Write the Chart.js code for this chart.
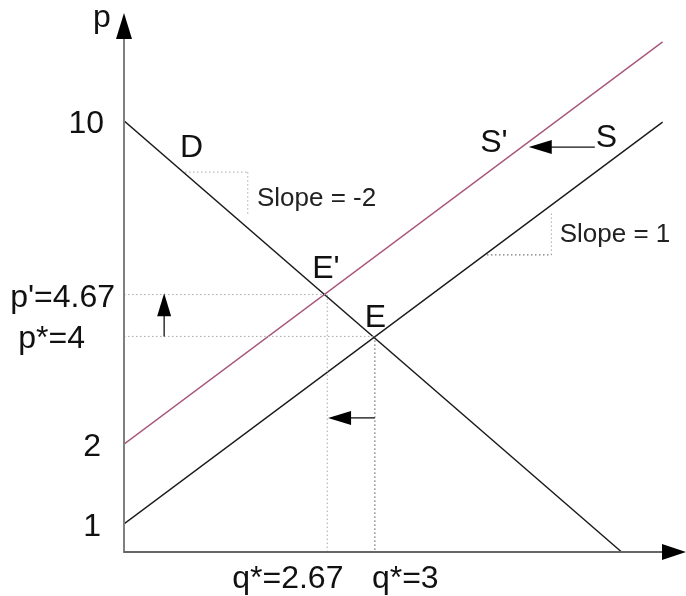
<!DOCTYPE html>
<html>
<head>
<meta charset="utf-8">
<script src="https://cdn.jsdelivr.net/npm/chart.js@4"></script>
<style>
  body { margin: 0; background: #fff; }
  canvas { display: block; }
</style>
</head>
<body>
<canvas id="supplyDemandChart" width="686" height="596"></canvas>
<script>
// schematic units (not to scale with the tick labels)
const demandLine = [[0, 10], [5.95, 0]];
const supplyLine = [[0, 0.65], [6.44, 9.97]];
const shiftedSupplyLine = [[0, 2.5], [6.44, 11.83]];
const pointE = [3.0, 5.0];
const pointE2 = [2.43, 5.97];

const yTickLabels = ['1', '2', 'p*=4', "p'=4.67", '10'];
const yTickValues = [0.65, 2.5, 5.0, 5.97, 10];
const xTickLabels = ['q*=2.67', 'q*=3'];
const xTickValues = [2.43, 3.0];

// slope triangles: [corner, other end of horizontal, other end of vertical]
const demandSlope = [[1.48, 8.81], [0.73, 8.81], [1.48, 7.82]];
const supplySlope = [[5.11, 6.89], [4.34, 6.89], [5.11, 7.86]];

const shiftArrows = [
  { from: [0.48, 5.0], to: [0.48, 6.0] },
  { from: [3.0, 3.11], to: [2.44, 3.11] },
  { from: [5.63, 9.39], to: [4.84, 9.39] }
];

const curveLabels = [
  { text: 'p', at: [-0.37, 12.18] },
  { text: 'D', at: [0.67, 9.16] },
  { text: "S'", at: [4.26, 9.28] },
  { text: 'S', at: [5.64, 9.39] },
  { text: "E'", at: [2.25, 6.35] },
  { text: 'E', at: [2.88, 5.22] }
];
const slopeLabels = [
  { text: 'Slope = -2', at: [1.59, 8.02] },
  { text: 'Slope = 1', at: [5.21, 7.19] }
];

// label nudges in px (layout only)
const yLabelGap = [23, 23, 39, 9, 20];
const xLabelShift = [-95, -3];

const toPts = arr => arr.map(p => ({ x: p[0], y: p[1] }));

function line(points, color, width, dash) {
  return {
    data: toPts(points),
    showLine: true,
    borderColor: color,
    borderWidth: width,
    borderDash: dash || [],
    pointRadius: 0,
    fill: false,
    tension: 0
  };
}

const DOT = [1.5, 2.5];
const LIGHT = '#a8a8a8';
const DARK = '#555';

const datasets = [
  line([[0, pointE2[1]], pointE2], LIGHT, 1, DOT),
  line([pointE2, [pointE2[0], 0]], LIGHT, 1, DOT),
  line([[0, pointE[1]], pointE], LIGHT, 1, DOT),
  line([pointE, [pointE[0], 0]], DARK, 1, DOT),
  line([demandSlope[1], demandSlope[0]], LIGHT, 1, DOT),
  line([demandSlope[0], demandSlope[2]], LIGHT, 1, DOT),
  line([supplySlope[1], supplySlope[0]], DARK, 1, DOT),
  line([supplySlope[0], supplySlope[2]], LIGHT, 1, DOT),
  line(demandLine, '#1a1a1a', 1.4),
  line(supplyLine, '#1a1a1a', 1.4),
  line(shiftedSupplyLine, '#a8567c', 1.4)
];

function head(ctx, tip, dx, dy, len, half) {
  // dx, dy: unit direction of travel
  const bx = tip.x - dx * len, by = tip.y - dy * len;
  ctx.beginPath();
  ctx.moveTo(tip.x, tip.y);
  ctx.lineTo(bx - dy * half, by + dx * half);
  ctx.lineTo(bx + dy * half, by - dx * half);
  ctx.closePath();
  ctx.fill();
}

const sketchPlugin = {
  id: 'sketch',
  beforeDraw(chart) {
    const ctx = chart.ctx;
    ctx.save();
    ctx.fillStyle = '#fff';
    ctx.fillRect(0, 0, chart.width, chart.height);
    ctx.restore();
  },
  afterDraw(chart) {
    const ctx = chart.ctx;
    const xs = chart.scales.x, ys = chart.scales.y;
    const px = v => xs.getPixelForValue(v);
    const py = v => ys.getPixelForValue(v);
    const x0 = px(0), y0 = py(0);
    const area = chart.chartArea;
    ctx.save();

    // axes
    ctx.strokeStyle = '#808080';
    ctx.lineWidth = 2;
    ctx.beginPath();
    ctx.moveTo(x0, y0 + 1);
    ctx.lineTo(x0, area.top + 20);
    ctx.stroke();
    ctx.strokeStyle = '#666';
    ctx.beginPath();
    ctx.moveTo(x0, y0);
    ctx.lineTo(area.right - 20, y0);
    ctx.stroke();
    ctx.fillStyle = '#000';
    head(ctx, { x: x0, y: area.top }, 0, -1, 26, 8);
    head(ctx, { x: area.right, y: y0 }, 1, 0, 24, 8);

    // shift arrows
    ctx.strokeStyle = '#111';
    ctx.lineWidth = 1.3;
    shiftArrows.forEach(a => {
      const s = { x: px(a.from[0]), y: py(a.from[1]) };
      const t = { x: px(a.to[0]), y: py(a.to[1]) };
      const d = Math.hypot(t.x - s.x, t.y - s.y);
      const dx = (t.x - s.x) / d, dy = (t.y - s.y) / d;
      ctx.beginPath();
      ctx.moveTo(s.x, s.y);
      ctx.lineTo(t.x - dx * 20, t.y - dy * 20);
      ctx.stroke();
      head(ctx, t, dx, dy, 23, 7);
    });

    // text
    ctx.fillStyle = '#111';
    ctx.textBaseline = 'alphabetic';
    ctx.font = '32px "Liberation Sans", Arial, sans-serif';
    ctx.textAlign = 'right';
    yTickLabels.forEach((t, i) => {
      ctx.fillText(t, x0 - yLabelGap[i], py(yTickValues[i]) + 12);
    });
    ctx.textAlign = 'left';
    xTickLabels.forEach((t, i) => {
      ctx.fillText(t, px(xTickValues[i]) + xLabelShift[i], 588);
    });
    curveLabels.forEach(l => ctx.fillText(l.text, px(l.at[0]), py(l.at[1])));
    ctx.font = '26px "Liberation Sans", Arial, sans-serif';
    ctx.fillStyle = '#222';
    slopeLabels.forEach(l => ctx.fillText(l.text, px(l.at[0]), py(l.at[1])));
    ctx.restore();
  }
};

new Chart(document.getElementById('supplyDemandChart'), {
  type: 'scatter',
  data: { datasets: datasets },
  options: {
    responsive: false,
    animation: false,
    layout: { padding: { left: 124, right: 0, top: 13, bottom: 44 } },
    plugins: { legend: { display: false }, tooltip: { enabled: false } },
    scales: {
      x: { type: 'linear', min: 0, max: 6.72, display: false },
      y: { type: 'linear', min: 0, max: 12.5, display: false }
    }
  },
  plugins: [sketchPlugin]
});
</script>
</body>
</html>
